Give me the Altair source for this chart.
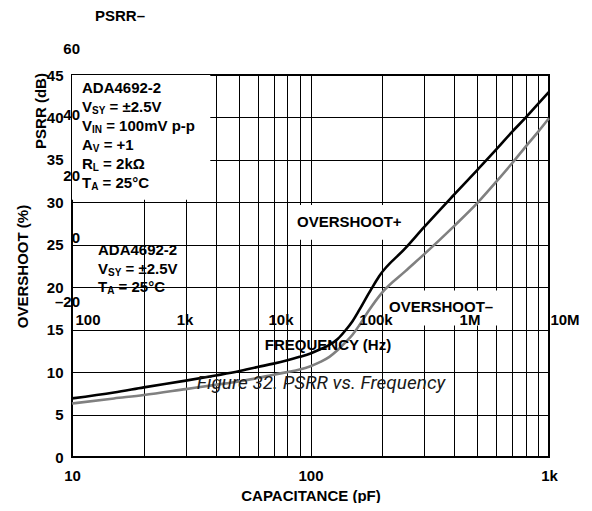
import altair as alt
import pandas as pd

# ---------------- data ----------------
cap_plus = [10, 15, 20, 30, 40, 50, 60, 70, 80, 90, 100, 110, 120, 130, 140, 150,
            160, 170, 180, 194, 250, 300, 400, 500, 600, 700, 800, 900, 1000]
ovs_plus = [6.9, 7.6, 8.2, 9.0, 9.6, 10.1, 10.6, 11.0, 11.4, 11.8, 12.2, 12.7, 13.2, 13.9, 14.9, 16.0,
            17.3, 18.6, 19.8, 21.3, 24.6, 27.1, 30.9, 33.8, 36.2, 38.3, 40.0, 41.6, 43.0]

cap_minus = [10, 15, 20, 30, 40, 50, 60, 70, 80, 90, 100, 110, 120, 130, 140, 150,
             160, 175, 200, 250, 300, 400, 500, 600, 700, 800, 900, 1000]
ovs_minus = [6.3, 6.9, 7.3, 8.0, 8.5, 8.9, 9.3, 9.7, 10.0, 10.3, 10.7, 11.2, 11.8, 12.6, 13.5, 14.4,
             15.5, 17.2, 19.4, 21.9, 23.9, 27.2, 29.9, 32.4, 34.6, 36.6, 38.3, 39.9]

x_grid = [10, 20, 30, 40, 50, 60, 70, 80, 90, 100, 200, 300, 400, 500, 600, 700, 800, 900, 1000]
y_ticks = [0, 5, 10, 15, 20, 25, 30, 35, 40, 45]

# overlaid (second figure) texts
psrr_y_labels = ["60", "40", "20", "0", "–20"]
freq_labels = ["100", "1k", "10k", "100k", "1M", "10M"]

# ---------------- layout ----------------
W, H = 477, 382
OX, OY = 72, 75  # page position of plot origin
FONT = "Liberation Sans"

df = pd.concat([
    pd.DataFrame({"cap": cap_plus, "ovs": ovs_plus, "s": "OVERSHOOT+"}),
    pd.DataFrame({"cap": cap_minus, "ovs": ovs_minus, "s": "OVERSHOOT-"}),
])

xscale = alt.Scale(type="log", domain=[10, 1000], nice=False)
yscale = alt.Scale(domain=[0, 45], nice=False, zero=True)

lines = alt.Chart(df).mark_line(strokeWidth=2.6, interpolate="monotone").encode(
    x=alt.X("cap:Q", scale=xscale, title="CAPACITANCE (pF)",
            axis=alt.Axis(values=x_grid, grid=True, ticks=False, tickSize=0, domain=False,
                          labelExpr="datum.value==10?'10':datum.value==100?'100':datum.value==1000?'1k':''",
                          labelFlush=False, labelOverlap=False, labelPadding=11,
                          titleY=38, titleBaseline="middle")),
    y=alt.Y("ovs:Q", scale=yscale, title="OVERSHOOT (%)",
            axis=alt.Axis(values=y_ticks, grid=True, ticks=False, tickSize=0, domain=False,
                          labelFlush=False, labelOverlap=False, labelPadding=9,
                          titleX=-50, titleY=H / 2, titleBaseline="middle", titleAlign="center")),
    color=alt.Color("s:N", scale=alt.Scale(domain=["OVERSHOOT+", "OVERSHOOT-"],
                                           range=["#000000", "#808080"]), legend=None),
)

boxes = alt.Chart(pd.DataFrame({
    "x": [10, 84, 206], "x2": [38, 265, 650],
    "y": [30.3, 25.6, 15.5], "y2": [45, 29.7, 19.6],
})).mark_rect(color="white").encode(
    x=alt.X("x:Q", scale=xscale), x2="x2:Q",
    y=alt.Y("y:Q", scale=yscale), y2="y2:Q",
)


def txt(s, xp, yp, size=15, align="left", angle=0, weight="bold", font=FONT,
        style="normal", color="black", baseline="middle"):
    return alt.Chart(pd.DataFrame({"t": [s]})).mark_text(
        align=align, baseline=baseline, fontSize=size, fontWeight=weight, font=font,
        angle=angle, color=color, fontStyle=style,
    ).encode(x=alt.value(xp - OX), y=alt.value(yp - OY), text="t:N")


# Arial-bold advance widths (per em)
AW = {" ": .278, "+": .584, "-": .333, ".": .278, "=": .584, "A": .722, "C": .722, "D": .722,
      "I": .278, "L": .611, "N": .722, "R": .722, "S": .667, "T": .611, "V": .667, "Y": .667}
for d in "0123456789":
    AW[d] = .556


def width(s, size):
    return sum(AW.get(c, .6) for c in s) * size


def subtxt(main, sub, rest, xp, yp, size=15, subsize=10):
    w1 = width(main, size)
    w2 = width(sub, subsize)
    return [txt(main, xp, yp, size), txt(sub, xp + w1, yp + 4, subsize),
            txt(rest, xp + w1 + w2 + width(" ", size), yp, size)]


layers = [boxes, lines]

# main annotation
layers.append(txt("ADA4692-2", 82, 88))
layers += subtxt("V", "SY", "= ±2.5V", 82, 107)
layers += subtxt("V", "IN", "= 100mV p-p", 82, 126)
layers += subtxt("A", "V", "= +1", 82, 145)
layers += subtxt("R", "L", "= 2kΩ", 82, 164)
layers += subtxt("T", "A", "= 25°C", 82, 183)

layers.append(txt("OVERSHOOT+", 297, 222))
layers.append(txt("OVERSHOOT–", 389, 307))

# overlaid texts from the neighbouring figure
layers.append(txt("PSRR–", 95, 16))
layers.append(txt("PSRR (dB)", 41, 111, align="center", angle=270))
for s, yp in zip(psrr_y_labels, [49, 115, 176, 238, 302]):
    layers.append(txt(s, 80, yp, align="right"))
for s, xp in zip(freq_labels, [88, 185, 281, 376, 470, 565]):
    layers.append(txt(s, xp, 320, align="center"))
layers.append(txt("FREQUENCY (Hz)", 328, 345, align="center"))
layers.append(txt("ADA4692-2", 98, 250))
layers += subtxt("V", "SY", "= ±2.5V", 98, 269)
layers += subtxt("T", "A", "= 25°C", 98, 287)
layers.append(txt("Figure 32. PSRR vs. Frequency", 321, 383, size=19, align="center",
                  weight="normal", font="Roboto", style="italic", color="#1a1a1a"))

chart = alt.layer(*layers).properties(
    width=W, height=H,
    autosize=alt.AutoSizeParams(type="none"),
    padding={"left": OX - 8, "top": OY - 8, "right": 35, "bottom": 46},
    background="white",
).configure_view(stroke="black", strokeWidth=2).configure_axis(
    labelFont=FONT, labelFontSize=15, labelFontWeight="bold", labelColor="black",
    titleFont=FONT, titleFontSize=15, titleFontWeight="bold", titleColor="black",
    gridColor="black", gridWidth=1, gridOpacity=1,
)

chart.save("out.html", embed_options={"renderer": "svg", "actions": False})
